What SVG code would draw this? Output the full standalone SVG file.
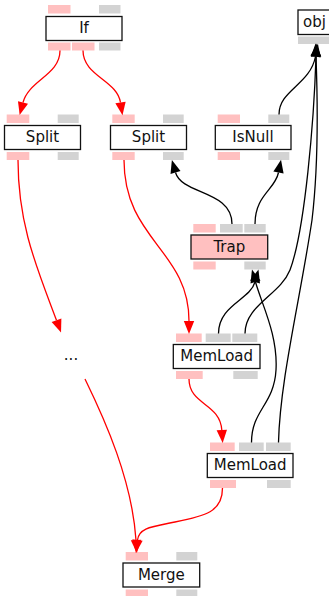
<svg xmlns="http://www.w3.org/2000/svg" width="329" height="596" viewBox="0 0 329 596">
<style>
  .box { fill: #ffffff; stroke: #111111; stroke-width: 1.3; }
  .trap { fill: #ffc0c0; stroke: #111111; stroke-width: 1.3; }
  .pc { fill: #ffc0c0; }
  .pd { fill: #d3d3d3; }
  .lbl { font-family: "DejaVu Sans", sans-serif; font-size: 15px; fill: #111111; text-anchor: middle; }
  .ctl { fill: none; stroke: #ff0000; stroke-width: 1.3; }
  .dat { fill: none; stroke: #000000; stroke-width: 1.3; }
</style>
<defs>
  <marker id="ar" markerWidth="13" markerHeight="11" refX="0" refY="5" orient="auto" markerUnits="userSpaceOnUse" viewBox="0 0 12.5 10" overflow="visible">
    <path d="M0,0 L12.5,5 L0,10 z" fill="#ff0000"/>
  </marker>
  <marker id="ab" markerWidth="13" markerHeight="11" refX="0" refY="5" orient="auto" markerUnits="userSpaceOnUse" viewBox="0 0 12.5 10" overflow="visible">
    <path d="M0,0 L12.5,5 L0,10 z" fill="#000000"/>
  </marker>
</defs>
<rect width="329" height="596" fill="#ffffff"/>

<g id="node-if">
  <rect class="pc" x="48" y="5" width="22.5" height="8.5"/>
  <rect class="pd" x="99" y="5" width="21.5" height="8.5"/>
  <rect class="box" x="46" y="16.5" width="76" height="24"/>
  <text class="lbl" x="84" y="33">If</text>
  <rect class="pc" x="48" y="42.5" width="22.5" height="8"/>
  <rect class="pc" x="72" y="42.5" width="22.5" height="8"/>
  <rect class="pd" x="99" y="42.5" width="21.5" height="8"/>
</g>

<g id="node-obj">
  <rect class="box" x="298" y="10" width="40" height="24.5"/>
  <text class="lbl" x="314.5" y="27">obj</text>
  <rect class="pd" x="298" y="36.5" width="40" height="7.5"/>
</g>

<g id="node-split1">
  <rect class="pc" x="6.7" y="114.5" width="22.6" height="8.5"/>
  <rect class="pd" x="57.7" y="114.5" width="21" height="8.5"/>
  <rect class="box" x="4.5" y="125.5" width="76" height="24"/>
  <text class="lbl" x="42.5" y="142">Split</text>
  <rect class="pc" x="6.7" y="152" width="22.6" height="8"/>
  <rect class="pd" x="57.7" y="152" width="21" height="8"/>
</g>

<g id="node-split2">
  <rect class="pc" x="112.3" y="114.5" width="22.4" height="8.5"/>
  <rect class="pd" x="163" y="114.5" width="20.7" height="8.5"/>
  <rect class="box" x="110.5" y="125.5" width="76" height="24"/>
  <text class="lbl" x="148.5" y="142">Split</text>
  <rect class="pc" x="112.3" y="152" width="22.4" height="8"/>
  <rect class="pd" x="163" y="152" width="20.7" height="8"/>
</g>

<g id="node-isnull">
  <rect class="pc" x="217.7" y="114.5" width="22.3" height="8.5"/>
  <rect class="pd" x="268.3" y="114.5" width="21" height="8.5"/>
  <rect class="box" x="215.3" y="125.5" width="75.7" height="24"/>
  <text class="lbl" x="253" y="142">IsNull</text>
  <rect class="pc" x="217.7" y="152" width="22.3" height="8"/>
  <rect class="pd" x="268.3" y="152" width="21" height="8"/>
</g>

<g id="node-trap">
  <rect class="pc" x="193.3" y="224" width="22.4" height="8.5"/>
  <rect class="pd" x="220" y="224" width="22.7" height="8.5"/>
  <rect class="pd" x="244.3" y="224" width="21.4" height="8.5"/>
  <rect class="trap" x="191" y="235" width="76.7" height="24"/>
  <text class="lbl" x="229.3" y="251.5">Trap</text>
  <rect class="pc" x="193.3" y="261.5" width="22.4" height="8"/>
  <rect class="pd" x="244.3" y="261.5" width="21.4" height="8"/>
</g>

<g id="node-dots">
  <text class="lbl" x="71" y="360">...</text>
</g>

<g id="node-memload1">
  <rect class="pc" x="176" y="333.5" width="25.7" height="8.5"/>
  <rect class="pd" x="205.7" y="333.5" width="25" height="8.5"/>
  <rect class="pd" x="232.3" y="333.5" width="25" height="8.5"/>
  <rect class="box" x="173.3" y="344.5" width="86.7" height="24"/>
  <text class="lbl" x="216.7" y="361">MemLoad</text>
  <rect class="pc" x="176" y="371" width="26.7" height="8"/>
  <rect class="pd" x="233.3" y="371" width="24.4" height="8"/>
</g>

<g id="node-memload2">
  <rect class="pc" x="210" y="442.5" width="24.7" height="8.5"/>
  <rect class="pd" x="239" y="442.5" width="24.7" height="8.5"/>
  <rect class="pd" x="266" y="442.5" width="24.7" height="8.5"/>
  <rect class="box" x="207.3" y="453.5" width="85.7" height="24"/>
  <text class="lbl" x="250.2" y="470">MemLoad</text>
  <rect class="pc" x="210" y="480" width="26" height="8"/>
  <rect class="pd" x="267" y="480" width="23.7" height="8"/>
</g>

<g id="node-merge">
  <rect class="pc" x="125.7" y="552" width="22.3" height="8.5"/>
  <rect class="pd" x="176.3" y="552" width="21" height="8.5"/>
  <rect class="box" x="123" y="563" width="76.7" height="24"/>
  <text class="lbl" x="161.3" y="579.5">Merge</text>
  <rect class="pc" x="125.7" y="589.5" width="22.3" height="8"/>
  <rect class="pd" x="176.3" y="589.5" width="21" height="8"/>
</g>

<g id="connectors">
  <path class="ctl" marker-end="url(#ar)" d="M60,50.5 C60,75 29,80 23,102.5"/>
  <path class="ctl" marker-end="url(#ar)" d="M83,50.5 C83,76 117,80 120.5,102.5"/>
  <path class="ctl" marker-end="url(#ar)" d="M18,160 C18,225 37,268 56.5,320.3"/>
  <path class="ctl" marker-end="url(#ar)" d="M85,379 C105,420 132,480 136,540"/>
  <path class="ctl" marker-end="url(#ar)" d="M124,160 C124,240 189,250 189,321"/>
  <path class="ctl" marker-end="url(#ar)" d="M189,379 C189,405 220,403 221.8,430"/>
  <path class="ctl" marker-end="url(#ar)" d="M222.5,488 C222.5,512 205,516 175,522 C150,527 139,528 137.5,540"/>

  <path class="dat" marker-end="url(#ab)" d="M232,224 C232,190 182,195 175.5,172.5"/>
  <path class="dat" marker-end="url(#ab)" d="M255,224 C255,195 275,190 278.5,172.5"/>
  <path class="dat" marker-end="url(#ab)" d="M279,114.5 C279,90 310,85 315.5,56.5"/>
  <path class="dat" marker-end="url(#ab)" d="M218.5,333.5 C218.5,305 250,300 255,282"/>
  <path class="dat" marker-end="url(#ab)" d="M251.5,442.5 C251.5,410 274,405 276,370 C278,335 262,305 255.5,282"/>
  <path class="dat" marker-end="url(#ab)" d="M245,333.5 C245,305 280,295 290,270 C305,230 314,120 316,56.5"/>
  <path class="dat" marker-end="url(#ab)" d="M278.5,442.5 C280,380 300,300 312,220 C318,170 318,110 316,56.5"/>
</g>
</svg>
